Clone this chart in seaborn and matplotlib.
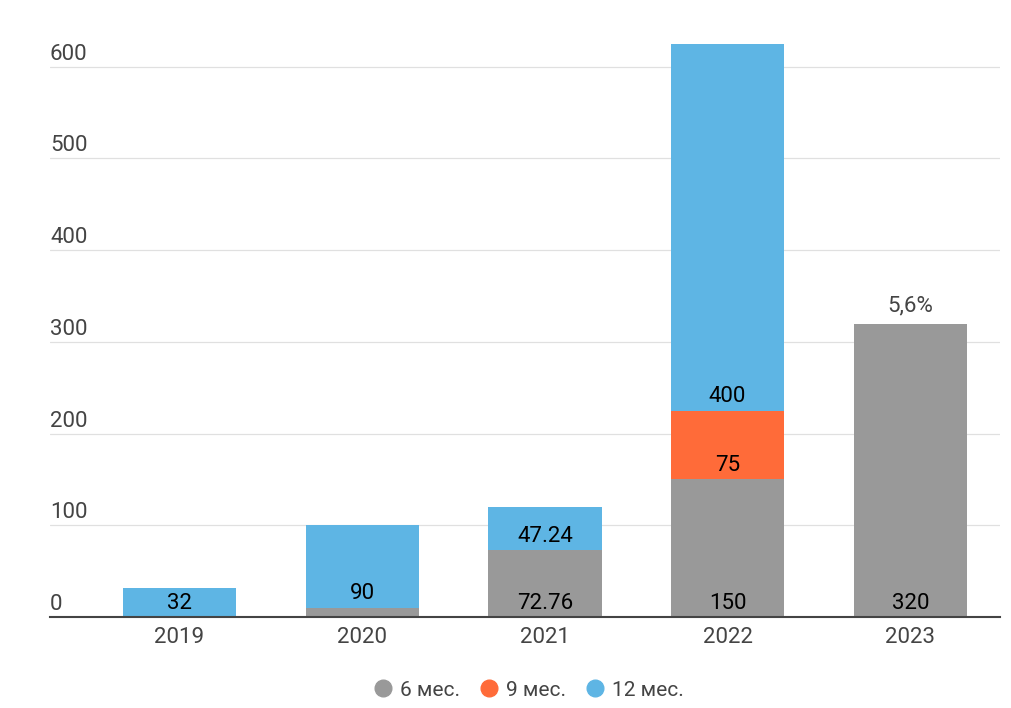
import matplotlib
matplotlib.use("Agg")
import matplotlib.pyplot as plt
import seaborn as sns
import numpy as np
from matplotlib.lines import Line2D

years = ["2019", "2020", "2021", "2022", "2023"]
m6 = [0, 10, 72.76, 150, 320]
m9 = [0, 0, 0, 75, 0]
m12 = [32, 90, 47.24, 400, 0]
series_names = ["6 мес.", "9 мес.", "12 мес."]
top_notes = ["", "", "", "", "5,6%"]
y_ticks = [0, 100, 200, 300, 400, 500, 600]

colors = ["#999999", "#ff6b39", "#5eb5e4"]
text_grey = "#444444"

sns.set_style("white")
plt.rcParams["font.family"] = ["Roboto", "DejaVu Sans"]

fig = plt.figure(figsize=(10.12, 7.08), dpi=100)
ax = fig.add_axes([50 / 1012, 1 - 617 / 708, 950 / 1012, (617 - 30) / 708])

m6 = np.array(m6)
m9 = np.array(m9)
m12 = np.array(m12)
layers = [m6, m9, m12]
cum = [m6, m6 + m9, m6 + m9 + m12]

# draw cumulative heights back to front so the stacks overlap
for i in [2, 1, 0]:
    sns.barplot(x=years, y=cum[i], color=colors[i], saturation=1,
                width=0.62, linewidth=0, ax=ax, zorder=2)

# value labels at the inside base of each segment
for i, vals in enumerate(layers):
    bottoms = cum[i] - vals
    for j, v in enumerate(vals):
        if v >= 20:
            ax.annotate(f"{v:g}", xy=(j, bottoms[j]), xytext=(0, 10),
                        textcoords="offset points", ha="center", va="center",
                        fontsize=16, color="black", zorder=4)

totals = cum[2]
for j, note in enumerate(top_notes):
    if note:
        ax.annotate(note, xy=(j, totals[j]), xytext=(0, 13),
                    textcoords="offset points", ha="center", va="center",
                    fontsize=16, color=text_grey)

ax.set_xlim(-0.709, 4.491)
ax.set_ylim(0, 640)
ax.set_yticks(y_ticks)
ax.set_yticklabels([])
ax.yaxis.grid(True, color="#e0e0e0", linewidth=0.9, zorder=0)
ax.set_axisbelow(True)
for t in y_ticks:
    ax.annotate(str(t), xy=(0, t), xycoords=ax.get_yaxis_transform(),
                xytext=(0, 9), textcoords="offset points",
                ha="left", va="center", fontsize=16, color=text_grey)

for s in ["top", "right", "left"]:
    ax.spines[s].set_visible(False)
ax.spines["bottom"].set_color("#444444")
ax.spines["bottom"].set_linewidth(1.5)
ax.spines["bottom"].set_zorder(5)
ax.tick_params(axis="both", length=0)
ax.tick_params(axis="x", pad=7, labelsize=16, labelcolor=text_grey)
ax.set_xlabel("")
ax.set_ylabel("")

handles = [Line2D([0], [0], marker="o", linestyle="", markersize=12,
                  markerfacecolor=c, markeredgecolor=c) for c in colors]
fig.legend(handles, series_names, loc="center", ncol=3,
           bbox_to_anchor=(0.522, 1 - 690 / 708), frameon=False,
           fontsize=15, labelcolor=text_grey, handletextpad=0.3,
           columnspacing=0.9, handlelength=1.0)

fig.savefig("out.png", dpi=100)
